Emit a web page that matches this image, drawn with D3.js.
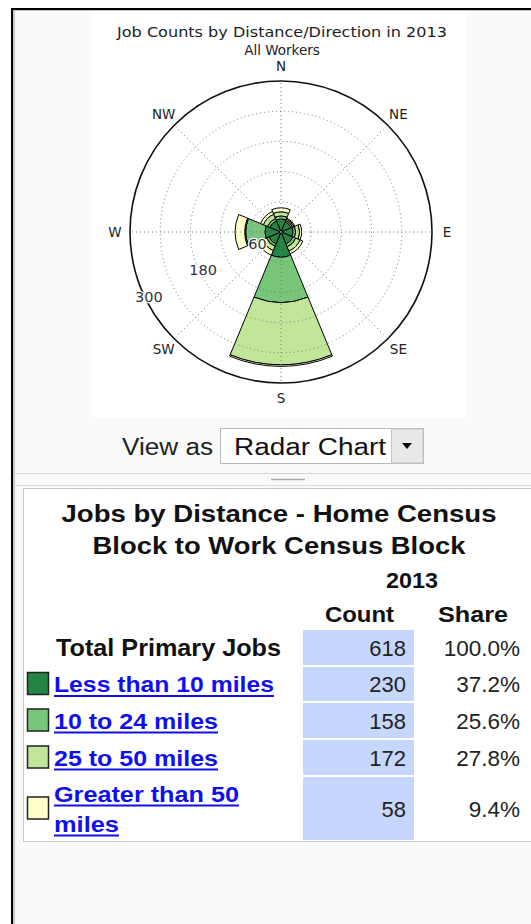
<!DOCTYPE html>
<html>
<head>
<meta charset="utf-8">
<script src="https://cdn.jsdelivr.net/npm/d3@7"></script>
<style>
body{margin:0;background:#fff;}
svg{display:block;}
</style>
</head>
<body>
<svg id="chart" width="531" height="924"></svg>
<script>
// data
var directions = ["N", "NE", "E", "SE", "S", "SW", "W", "NW"];
var bandKeys = ["lt10", "d10to24", "d25to50", "gt50"];
var bandNames = ["Less than 10 miles", "10 to 24 miles", "25 to 50 miles", "Greater than 50 miles"];
var bandColors = ["#238443", "#78c679", "#c2e699", "#ffffcc"];
var lt10    = [26, 22, 24, 26, 50, 26, 32, 24];
var d10to24 = [6, 3, 5, 6, 90, 5, 38, 5];
var d25to50 = [8, 3, 8, 9, 124, 9, 2, 9];
var gt50    = [8, 2, 4, 6, 3, 10, 19, 6];
var radialTicks = [60, 120, 180, 240];
var radialLabels = [60, 180, 300];
var rMax = 300;

var tableTitle = ["Jobs by Distance - Home Census", "Block to Work Census Block"];
var tableYear = "2013";
var rowNames = ["Total Primary Jobs"].concat(bandNames);
var rowCounts = [618, 230, 158, 172, 58];
var rowShares = ["100.0%", "37.2%", "25.6%", "27.8%", "9.4%"];

var svg = d3.select("#chart");
var font = "'Liberation Sans', Arial, sans-serif";
var mplFont = "'DejaVu Sans', sans-serif";

//little helper for text, stretches to a width if given
function txt(g, x, y, s, o) {
    o = o || {};
    var t = g.append("text")
        .attr("x", x).attr("y", y)
        .attr("font-family", o.family || font)
        .attr("font-size", o.size || 22)
        .attr("font-weight", o.weight || "normal")
        .attr("fill", o.fill || "#111")
        .attr("text-anchor", o.anchor || "start")
        .text(s);
    if (o.width) t.attr("textLength", o.width).attr("lengthAdjust", "spacingAndGlyphs");
    return t;
}

// page frame
svg.append("rect").attr("x", 11).attr("y", 8).attr("width", 520).attr("height", 916).attr("fill", "#000");
svg.append("rect").attr("x", 13).attr("y", 10).attr("width", 518).attr("height", 914).attr("fill", "#c8c8c8");
svg.append("rect").attr("x", 15).attr("y", 11).attr("width", 516).attr("height", 913).attr("fill", "#fafafa");
svg.append("rect").attr("x", 92).attr("y", 11).attr("width", 375).attr("height", 407).attr("fill", "#fff");

// polar chart
var cx = 281, cy = 232;
var r = d3.scaleLinear().domain([0, rMax]).range([0, 151]);
var deg = Math.PI / 180;

var rows = directions.map(function(d, i) {
    return {dir: d, i: i, lt10: lt10[i], d10to24: d10to24[i], d25to50: d25to50[i], gt50: gt50[i]};
});
var series = d3.stack().keys(bandKeys)(rows);

var arc = d3.arc()
    .innerRadius(function(d) { return r(d[0]); })
    .outerRadius(function(d) { return r(d[1]); })
    .startAngle(function(d) { return (d.data.i * 45 - 22.5) * deg; })
    .endAngle(function(d) { return (d.data.i * 45 + 22.5) * deg; });

var polar = svg.append("g").attr("transform", "translate(" + cx + "," + cy + ")");

polar.selectAll("g.band")
    .data(series)
    .join("g")
    .attr("class", "band")
    .attr("fill", function(d, i) { return bandColors[i]; })
    .selectAll("path")
    .data(function(d) { return d; })
    .join("path")
    .attr("d", arc)
    .attr("stroke", "#000")
    .attr("stroke-width", 1);

// dotted grid on top of the wedges
polar.selectAll("circle.grid")
    .data(radialTicks)
    .join("circle")
    .attr("class", "grid")
    .attr("r", function(d) { return r(d); })
    .attr("fill", "none")
    .attr("stroke", "#777")
    .attr("stroke-width", 1)
    .attr("stroke-dasharray", "1,3");

polar.selectAll("line.spoke")
    .data(directions)
    .join("line")
    .attr("class", "spoke")
    .attr("x1", 0).attr("y1", 0)
    .attr("x2", function(d, i) { return r(rMax) * Math.sin(i * 45 * deg); })
    .attr("y2", function(d, i) { return -r(rMax) * Math.cos(i * 45 * deg); })
    .attr("stroke", "#777")
    .attr("stroke-width", 1)
    .attr("stroke-dasharray", "1,3");

polar.append("circle")
    .attr("r", r(rMax))
    .attr("fill", "none")
    .attr("stroke", "#111")
    .attr("stroke-width", 1.6);

polar.selectAll("text.dir")
    .data(directions)
    .join("text")
    .attr("class", "dir")
    .attr("x", function(d, i) { return 166 * Math.sin(i * 45 * deg); })
    .attr("y", function(d, i) { return -166 * Math.cos(i * 45 * deg); })
    .attr("dy", "0.36em")
    .attr("text-anchor", "middle")
    .attr("font-family", mplFont)
    .attr("font-size", 13.5)
    .attr("fill", "#222")
    .text(function(d) { return d; });

var la = 206 * deg;
polar.selectAll("text.rlab")
    .data(radialLabels)
    .join("text")
    .attr("class", "rlab")
    .attr("x", function(d) { return (r(d) - 4) * Math.cos(la); })
    .attr("y", function(d) { return -(r(d) - 4) * Math.sin(la); })
    .attr("dy", "0.36em")
    .attr("text-anchor", "middle")
    .attr("font-family", mplFont)
    .attr("font-size", 14.5)
    .attr("fill", "#333")
    .attr("stroke", "#fff")
    .attr("stroke-width", 2.5)
    .attr("paint-order", "stroke")
    .text(function(d) { return d; });

txt(svg, 282, 37, "Job Counts by Distance/Direction in 2013", {family: mplFont, size: 13.5, fill: "#222", anchor: "middle", width: 330});
txt(svg, 282, 55, "All Workers", {family: mplFont, size: 13.5, fill: "#222", anchor: "middle"});

// view as control
txt(svg, 122, 455, "View as", {size: 23, fill: "#222", width: 91});
svg.append("rect").attr("x", 220.5).attr("y", 428.5).attr("width", 203).attr("height", 35)
    .attr("fill", "#fff").attr("stroke", "#b8b8b8");
svg.append("rect").attr("x", 391.5).attr("y", 429).attr("width", 31.5).attr("height", 34)
    .attr("fill", "#e8e8e8").attr("stroke", "#c4c4c4");
svg.append("path").attr("d", "M402,443 L412,443 L407,449 Z").attr("fill", "#000");
txt(svg, 234, 455, "Radar Chart", {size: 23, fill: "#111", width: 152});

// splitter
svg.append("line").attr("x1", 15).attr("x2", 531).attr("y1", 473.5).attr("y2", 473.5).attr("stroke", "#d4d4d4");
svg.append("line").attr("x1", 271).attr("x2", 305).attr("y1", 479.5).attr("y2", 479.5).attr("stroke", "#aaa").attr("stroke-width", 1.5);
svg.append("line").attr("x1", 15).attr("x2", 531).attr("y1", 485.5).attr("y2", 485.5).attr("stroke", "#dcdcdc");

// table
svg.append("rect").attr("x", 23.5).attr("y", 488.5).attr("width", 520).attr("height", 353)
    .attr("fill", "#fff").attr("stroke", "#c8c8c8");

txt(svg, 279, 522, tableTitle[0], {size: 23, weight: "bold", anchor: "middle", width: 435});
txt(svg, 279, 554, tableTitle[1], {size: 23, weight: "bold", anchor: "middle", width: 373});
txt(svg, 412, 588, tableYear, {size: 22, weight: "bold", anchor: "middle", width: 52});
txt(svg, 359.5, 622, "Count", {size: 22, weight: "bold", anchor: "middle", width: 69});
txt(svg, 473, 622, "Share", {size: 22, weight: "bold", anchor: "middle", width: 70});

var rowTop = [630, 667, 703, 740, 777];
var rowBot = [665, 701, 738, 775, 840];
var labelWidths = [[225], [220], [164], [164], [185, 65]];
var linkBlue = "#1010ee";

rowNames.forEach(function(name, i) {
    var mid = (rowTop[i] + rowBot[i]) / 2;
    svg.append("rect").attr("x", 303).attr("y", rowTop[i]).attr("width", 111)
        .attr("height", rowBot[i] - rowTop[i]).attr("fill", "#c6d6fc");
    txt(svg, 406, mid + 8, d3.format(",")(rowCounts[i]), {size: 22, fill: "#222", anchor: "end"});
    txt(svg, 520, mid + 8, rowShares[i], {size: 22.5, fill: "#222", anchor: "end"});
    if (i == 0) {
        txt(svg, 56, mid + 8, name, {size: 23, weight: "bold", width: labelWidths[0][0]});
        return;
    }
    svg.append("rect").attr("x", 27.5).attr("y", mid - 11.5).attr("width", 21).attr("height", 22)
        .attr("fill", bandColors[i - 1]).attr("stroke", "#222").attr("stroke-width", 1.5);
    var lines = labelWidths[i].length > 1 ? ["Greater than 50", "miles"] : [name];
    lines.forEach(function(ln, j) {
        var y = mid + 8 + (lines.length > 1 ? (j - 0.5) * 30 : 0);
        txt(svg, 54, y, ln, {size: 22, weight: "bold", fill: linkBlue, width: labelWidths[i][j]});
        svg.append("rect").attr("x", 54).attr("y", y + 3).attr("width", labelWidths[i][j]).attr("height", 2)
            .attr("fill", linkBlue);
    });
});
</script>
</body>
</html>
